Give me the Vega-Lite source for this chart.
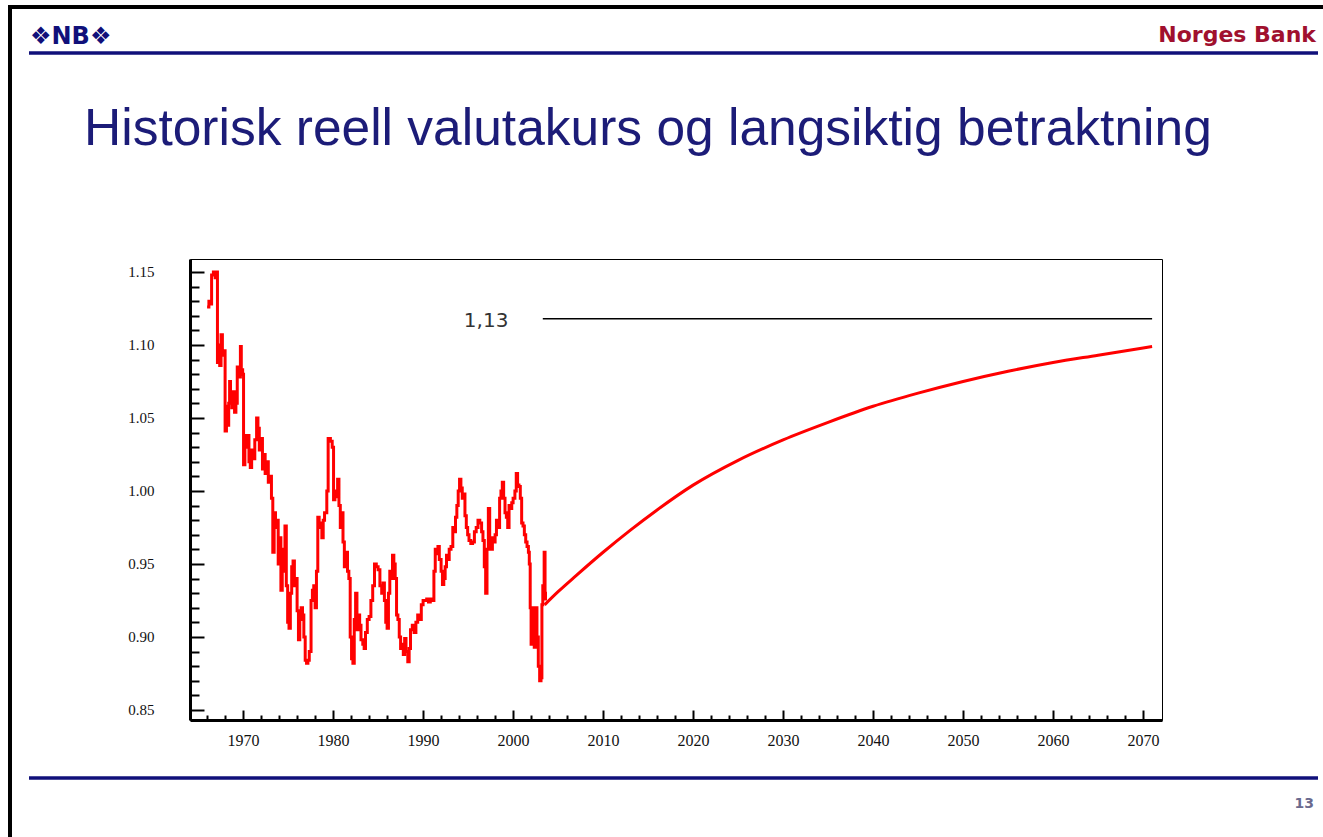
{
  "$schema": "https://vega.github.io/schema/vega-lite/v6.json",
  "width": 972,
  "height": 461,
  "autosize": {"type": "none"},
  "padding": {"left": 190, "top": 259, "right": 161, "bottom": 117},
  "background": "white",
  "config": {
    "view": {"stroke": "black", "strokeWidth": 1},
    "axis": {"grid": false, "domainColor": "black", "domainWidth": 3, "tickColor": "black", "tickWidth": 2, "labelFont": "Liberation Serif", "labelColor": "#111", "title": null, "tickCount": 500}
  },
  "datasets": {
    "hist": [
      {"t": 1966.0, "v": 1.126}, {"t": 1966.2, "v": 1.130}, {"t": 1966.4, "v": 1.128}, {"t": 1966.5, "v": 1.148},
      {"t": 1966.7, "v": 1.150}, {"t": 1966.9, "v": 1.146}, {"t": 1967.0, "v": 1.150}, {"t": 1967.15, "v": 1.088},
      {"t": 1967.3, "v": 1.100}, {"t": 1967.4, "v": 1.086}, {"t": 1967.55, "v": 1.107}, {"t": 1967.7, "v": 1.093},
      {"t": 1967.85, "v": 1.096}, {"t": 1968.0, "v": 1.041}, {"t": 1968.15, "v": 1.058}, {"t": 1968.25, "v": 1.045},
      {"t": 1968.4, "v": 1.060}, {"t": 1968.5, "v": 1.075}, {"t": 1968.6, "v": 1.062}, {"t": 1968.75, "v": 1.057},
      {"t": 1968.9, "v": 1.068}, {"t": 1969.05, "v": 1.054}, {"t": 1969.2, "v": 1.060}, {"t": 1969.35, "v": 1.085},
      {"t": 1969.5, "v": 1.078}, {"t": 1969.7, "v": 1.099}, {"t": 1969.8, "v": 1.083}, {"t": 1969.95, "v": 1.080},
      {"t": 1970.05, "v": 1.018}, {"t": 1970.2, "v": 1.038}, {"t": 1970.35, "v": 1.030}, {"t": 1970.5, "v": 1.038},
      {"t": 1970.65, "v": 1.020}, {"t": 1970.8, "v": 1.016}, {"t": 1970.95, "v": 1.028}, {"t": 1971.1, "v": 1.022},
      {"t": 1971.3, "v": 1.035}, {"t": 1971.5, "v": 1.050}, {"t": 1971.65, "v": 1.043}, {"t": 1971.8, "v": 1.028},
      {"t": 1972.0, "v": 1.036}, {"t": 1972.15, "v": 1.015}, {"t": 1972.3, "v": 1.025}, {"t": 1972.45, "v": 1.012},
      {"t": 1972.6, "v": 1.020}, {"t": 1972.8, "v": 1.006}, {"t": 1973.0, "v": 1.010}, {"t": 1973.15, "v": 0.995},
      {"t": 1973.3, "v": 0.958}, {"t": 1973.45, "v": 0.985}, {"t": 1973.6, "v": 0.975}, {"t": 1973.75, "v": 0.980},
      {"t": 1973.9, "v": 0.950}, {"t": 1974.05, "v": 0.968}, {"t": 1974.2, "v": 0.932}, {"t": 1974.35, "v": 0.945},
      {"t": 1974.5, "v": 0.960}, {"t": 1974.65, "v": 0.976}, {"t": 1974.8, "v": 0.935}, {"t": 1974.95, "v": 0.910},
      {"t": 1975.1, "v": 0.906}, {"t": 1975.25, "v": 0.930}, {"t": 1975.4, "v": 0.948}, {"t": 1975.55, "v": 0.952},
      {"t": 1975.7, "v": 0.935}, {"t": 1975.85, "v": 0.940}, {"t": 1976.0, "v": 0.918}, {"t": 1976.15, "v": 0.898},
      {"t": 1976.3, "v": 0.912}, {"t": 1976.45, "v": 0.920}, {"t": 1976.6, "v": 0.915}, {"t": 1976.75, "v": 0.900},
      {"t": 1976.9, "v": 0.884}, {"t": 1977.05, "v": 0.882}, {"t": 1977.2, "v": 0.884}, {"t": 1977.35, "v": 0.890},
      {"t": 1977.55, "v": 0.925}, {"t": 1977.7, "v": 0.932}, {"t": 1977.85, "v": 0.935}, {"t": 1978.0, "v": 0.920},
      {"t": 1978.15, "v": 0.945}, {"t": 1978.3, "v": 0.982}, {"t": 1978.45, "v": 0.975}, {"t": 1978.6, "v": 0.978},
      {"t": 1978.75, "v": 0.968}, {"t": 1978.9, "v": 0.980}, {"t": 1979.05, "v": 0.985}, {"t": 1979.3, "v": 1.000},
      {"t": 1979.45, "v": 1.036}, {"t": 1979.7, "v": 1.034}, {"t": 1979.9, "v": 1.030}, {"t": 1980.05, "v": 0.994},
      {"t": 1980.2, "v": 1.000}, {"t": 1980.35, "v": 0.996}, {"t": 1980.5, "v": 1.008}, {"t": 1980.65, "v": 0.990},
      {"t": 1980.8, "v": 0.975}, {"t": 1980.95, "v": 0.985}, {"t": 1981.1, "v": 0.965}, {"t": 1981.25, "v": 0.948},
      {"t": 1981.4, "v": 0.958}, {"t": 1981.6, "v": 0.945}, {"t": 1981.75, "v": 0.940}, {"t": 1981.9, "v": 0.900},
      {"t": 1982.05, "v": 0.885}, {"t": 1982.2, "v": 0.882}, {"t": 1982.35, "v": 0.912}, {"t": 1982.5, "v": 0.930},
      {"t": 1982.65, "v": 0.905}, {"t": 1982.8, "v": 0.915}, {"t": 1982.95, "v": 0.908}, {"t": 1983.1, "v": 0.898},
      {"t": 1983.3, "v": 0.895}, {"t": 1983.45, "v": 0.892}, {"t": 1983.6, "v": 0.903}, {"t": 1983.8, "v": 0.912},
      {"t": 1984.0, "v": 0.914}, {"t": 1984.2, "v": 0.925}, {"t": 1984.4, "v": 0.935}, {"t": 1984.6, "v": 0.950},
      {"t": 1984.8, "v": 0.948}, {"t": 1985.0, "v": 0.946}, {"t": 1985.2, "v": 0.935}, {"t": 1985.4, "v": 0.930},
      {"t": 1985.55, "v": 0.937}, {"t": 1985.7, "v": 0.925}, {"t": 1985.85, "v": 0.910}, {"t": 1986.0, "v": 0.906},
      {"t": 1986.15, "v": 0.930}, {"t": 1986.3, "v": 0.945}, {"t": 1986.45, "v": 0.940}, {"t": 1986.6, "v": 0.956},
      {"t": 1986.75, "v": 0.950}, {"t": 1986.9, "v": 0.940}, {"t": 1987.05, "v": 0.915}, {"t": 1987.2, "v": 0.912},
      {"t": 1987.35, "v": 0.900}, {"t": 1987.5, "v": 0.892}, {"t": 1987.65, "v": 0.895}, {"t": 1987.8, "v": 0.888},
      {"t": 1987.95, "v": 0.899}, {"t": 1988.1, "v": 0.890}, {"t": 1988.3, "v": 0.883}, {"t": 1988.45, "v": 0.892},
      {"t": 1988.6, "v": 0.905}, {"t": 1988.8, "v": 0.908}, {"t": 1989.0, "v": 0.903}, {"t": 1989.2, "v": 0.910},
      {"t": 1989.4, "v": 0.915}, {"t": 1989.6, "v": 0.912}, {"t": 1989.8, "v": 0.922}, {"t": 1990.0, "v": 0.925},
      {"t": 1990.2, "v": 0.925}, {"t": 1990.4, "v": 0.926}, {"t": 1990.6, "v": 0.924}, {"t": 1990.8, "v": 0.926},
      {"t": 1991.0, "v": 0.925}, {"t": 1991.2, "v": 0.945}, {"t": 1991.35, "v": 0.960}, {"t": 1991.5, "v": 0.957},
      {"t": 1991.65, "v": 0.962}, {"t": 1991.8, "v": 0.953}, {"t": 1992.0, "v": 0.945}, {"t": 1992.15, "v": 0.936},
      {"t": 1992.3, "v": 0.940}, {"t": 1992.45, "v": 0.948}, {"t": 1992.6, "v": 0.956}, {"t": 1992.75, "v": 0.953},
      {"t": 1992.9, "v": 0.960}, {"t": 1993.1, "v": 0.962}, {"t": 1993.3, "v": 0.975}, {"t": 1993.45, "v": 0.972},
      {"t": 1993.6, "v": 0.982}, {"t": 1993.75, "v": 0.990}, {"t": 1993.9, "v": 1.000}, {"t": 1994.05, "v": 1.008},
      {"t": 1994.2, "v": 1.002}, {"t": 1994.35, "v": 0.995}, {"t": 1994.5, "v": 0.998}, {"t": 1994.65, "v": 0.983},
      {"t": 1994.8, "v": 0.975}, {"t": 1994.95, "v": 0.970}, {"t": 1995.1, "v": 0.966}, {"t": 1995.3, "v": 0.964},
      {"t": 1995.5, "v": 0.965}, {"t": 1995.7, "v": 0.972}, {"t": 1995.9, "v": 0.975}, {"t": 1996.1, "v": 0.980},
      {"t": 1996.3, "v": 0.978}, {"t": 1996.5, "v": 0.972}, {"t": 1996.65, "v": 0.966}, {"t": 1996.8, "v": 0.948},
      {"t": 1996.95, "v": 0.930}, {"t": 1997.1, "v": 0.960}, {"t": 1997.25, "v": 0.988}, {"t": 1997.4, "v": 0.965},
      {"t": 1997.55, "v": 0.960}, {"t": 1997.7, "v": 0.968}, {"t": 1997.85, "v": 0.965}, {"t": 1998.0, "v": 0.970},
      {"t": 1998.15, "v": 0.980}, {"t": 1998.3, "v": 0.975}, {"t": 1998.5, "v": 0.995}, {"t": 1998.65, "v": 1.000},
      {"t": 1998.8, "v": 1.006}, {"t": 1998.95, "v": 0.995}, {"t": 1999.1, "v": 0.985}, {"t": 1999.25, "v": 0.982},
      {"t": 1999.4, "v": 0.975}, {"t": 1999.55, "v": 0.990}, {"t": 1999.7, "v": 0.988}, {"t": 1999.85, "v": 0.992},
      {"t": 2000.0, "v": 0.995}, {"t": 2000.2, "v": 1.000}, {"t": 2000.35, "v": 1.012}, {"t": 2000.5, "v": 1.004},
      {"t": 2000.65, "v": 1.003}, {"t": 2000.8, "v": 0.995}, {"t": 2000.95, "v": 0.978}, {"t": 2001.1, "v": 0.976},
      {"t": 2001.25, "v": 0.970}, {"t": 2001.4, "v": 0.965}, {"t": 2001.55, "v": 0.962}, {"t": 2001.7, "v": 0.958},
      {"t": 2001.8, "v": 0.950}, {"t": 2001.9, "v": 0.920}, {"t": 2002.0, "v": 0.895}, {"t": 2002.1, "v": 0.920},
      {"t": 2002.2, "v": 0.915}, {"t": 2002.35, "v": 0.893}, {"t": 2002.5, "v": 0.920}, {"t": 2002.65, "v": 0.900},
      {"t": 2002.8, "v": 0.880}, {"t": 2002.95, "v": 0.870}, {"t": 2003.1, "v": 0.872}, {"t": 2003.2, "v": 0.922},
      {"t": 2003.3, "v": 0.935}, {"t": 2003.45, "v": 0.958}, {"t": 2003.55, "v": 0.930}, {"t": 2003.6, "v": 0.925}
    ],
    "forecast": [
      {"t": 2003.5, "v": 0.922}, {"t": 2005, "v": 0.931}, {"t": 2007, "v": 0.942}, {"t": 2010, "v": 0.958},
      {"t": 2013, "v": 0.973}, {"t": 2016, "v": 0.987}, {"t": 2020, "v": 1.004}, {"t": 2025, "v": 1.021},
      {"t": 2030, "v": 1.035}, {"t": 2035, "v": 1.047}, {"t": 2040, "v": 1.058}, {"t": 2045, "v": 1.067},
      {"t": 2050, "v": 1.075}, {"t": 2055, "v": 1.082}, {"t": 2060, "v": 1.088}, {"t": 2065, "v": 1.093},
      {"t": 2070, "v": 1.098}, {"t": 2071, "v": 1.099}
    ],
    "level": [{"t": 2003.3, "t2": 2071, "v": 1.118, "lx": 1997.0, "ly": 1.1165, "label": "1,13"}]
  },
  "layer": [
    {
      "data": {"name": "hist"},
      "mark": {"type": "line", "color": "#ff0000", "strokeWidth": 3, "interpolate": "step-after"},
      "encoding": {
        "x": {
          "field": "t", "type": "quantitative",
          "scale": {"domain": [1964.1, 2072.1], "nice": false, "zero": false},
          "axis": {
            "values": [1966,1968,1970,1972,1974,1976,1978,1980,1982,1984,1986,1988,1990,1992,1994,1996,1998,2000,2002,2004,2006,2008,2010,2012,2014,2016,2018,2020,2022,2024,2026,2028,2030,2032,2034,2036,2038,2040,2042,2044,2046,2048,2050,2052,2054,2056,2058,2060,2062,2064,2066,2068,2070],
            "tickCount": 500,
            "labelExpr": "datum.value % 10 === 0 ? format(datum.value, 'd') : ''",
            "tickSize": {"condition": {"test": "datum.value % 10 === 0", "value": -10}, "value": -5},
            "labelPadding": 22,
            "labelFontSize": 16,
            "labelFlush": false,
            "labelOverlap": false
          }
        },
        "y": {
          "field": "v", "type": "quantitative",
          "scale": {"domain": [0.8431, 1.1589], "nice": false, "zero": false},
          "axis": {
            "values": [0.85,0.86,0.87,0.88,0.89,0.9,0.91,0.92,0.93,0.94,0.95,0.96,0.97,0.98,0.99,1.0,1.01,1.02,1.03,1.04,1.05,1.06,1.07,1.08,1.09,1.1,1.11,1.12,1.13,1.14,1.15],
            "tickCount": 500,
            "labelExpr": "round(datum.value * 100) % 5 === 0 ? format(datum.value, '.2f') : ''",
            "tickSize": {"condition": {"test": "round(datum.value * 100) % 5 === 0", "value": -14}, "value": -9},
            "labelPadding": 50,
            "labelFontSize": 15,
            "labelFlush": false,
            "labelOverlap": false
          }
        }
      }
    },
    {
      "data": {"name": "forecast"},
      "mark": {"type": "line", "color": "#ff0000", "strokeWidth": 3, "interpolate": "monotone"},
      "encoding": {
        "x": {"field": "t", "type": "quantitative"},
        "y": {"field": "v", "type": "quantitative"}
      }
    },
    {
      "data": {"name": "level"},
      "mark": {"type": "rule", "color": "black", "strokeWidth": 1.5},
      "encoding": {
        "x": {"field": "t", "type": "quantitative"},
        "x2": {"field": "t2"},
        "y": {"field": "v", "type": "quantitative"}
      }
    },
    {
      "data": {"name": "level"},
      "mark": {"type": "text", "font": "DejaVu Sans", "fontSize": 20, "color": "#333", "align": "center", "baseline": "middle"},
      "encoding": {
        "x": {"field": "lx", "type": "quantitative"},
        "y": {"field": "ly", "type": "quantitative"},
        "text": {"field": "label"}
      }
    },
    {
      "data": {"values": [{}]},
      "mark": {"type": "rect", "fillOpacity": 0, "stroke": "black", "strokeWidth": 4},
      "encoding": {
        "x": {"value": -180}, "x2": {"value": 1300},
        "y": {"value": -252}, "y2": {"value": 700}
      }
    },
    {
      "data": {"values": [{}]},
      "mark": {"type": "rule", "color": "#10107a", "strokeWidth": 3.5},
      "encoding": {
        "x": {"value": -161}, "x2": {"value": 1128},
        "y": {"value": -206}
      }
    },
    {
      "data": {"values": [{}]},
      "mark": {"type": "rule", "color": "#10107a", "strokeWidth": 3.5},
      "encoding": {
        "x": {"value": -161}, "x2": {"value": 1128},
        "y": {"value": 519}
      }
    },
    {
      "data": {"values": [{"txt": "Historisk reell valutakurs og langsiktig betraktning"}]},
      "mark": {"type": "text", "font": "Liberation Sans", "fontSize": 51.5, "color": "#1c1c78", "align": "left", "baseline": "alphabetic"},
      "encoding": {
        "x": {"value": -106}, "y": {"value": -114},
        "text": {"field": "txt"}
      }
    },
    {
      "data": {"values": [{"txt": "Norges Bank"}]},
      "mark": {"type": "text", "font": "DejaVu Sans", "fontWeight": "bold", "fontSize": 22, "color": "#a0102e", "align": "right", "baseline": "alphabetic"},
      "encoding": {
        "x": {"value": 1126}, "y": {"value": -217},
        "text": {"field": "txt"}
      }
    },
    {
      "data": {"values": [{"txt": "❖NB❖"}]},
      "mark": {"type": "text", "font": "DejaVu Sans", "fontWeight": "bold", "fontSize": 24, "color": "#10107a", "align": "left", "baseline": "middle"},
      "encoding": {
        "x": {"value": -160}, "y": {"value": -222},
        "text": {"field": "txt"}
      }
    },
    {
      "data": {"values": [{"txt": "13"}]},
      "mark": {"type": "text", "font": "DejaVu Sans", "fontWeight": "bold", "fontSize": 14, "color": "#6a6a8e", "align": "right", "baseline": "alphabetic"},
      "encoding": {
        "x": {"value": 1124}, "y": {"value": 549},
        "text": {"field": "txt"}
      }
    }
  ]
}
